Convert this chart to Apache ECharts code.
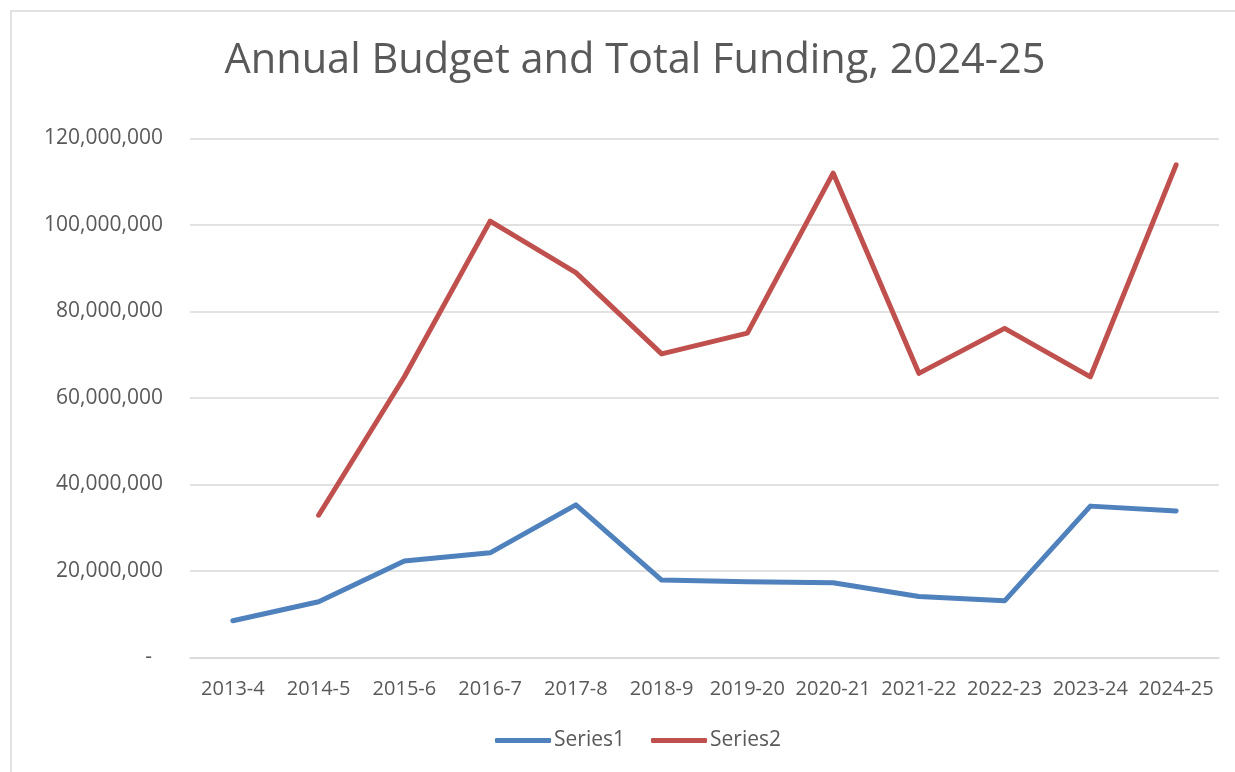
<!DOCTYPE html>
<html>
<head>
<meta charset="utf-8">
<script src="https://cdn.jsdelivr.net/npm/echarts@6/dist/echarts.min.js"></script>
<style>
html,body{margin:0;padding:0;background:#fff;}
#chart{width:1235px;height:772px;}
</style>
</head>
<body>
<div id="chart"></div>
<script>
const categories = ['2013-4','2014-5','2015-6','2016-7','2017-8','2018-9','2019-20','2020-21','2021-22','2022-23','2023-24','2024-25'];
const series1 = [8500000, 12900000, 22300000, 24200000, 35300000, 17900000, 17500000, 17300000, 14100000, 13100000, 35000000, 33900000];
const series2 = [null, 32900000, 64900000, 100900000, 89000000, 70200000, 75000000, 112000000, 65700000, 76100000, 64900000, 113900000];
const titleText = 'Annual Budget and Total Funding, 2024-25';

const FONT = '"Open Sans", sans-serif';
const chart = echarts.init(document.getElementById('chart'), null, {renderer: 'canvas'});
chart.setOption({
  backgroundColor: '#fff',
  animation: false,
  title: {
    text: titleText,
    left: 630, top: 35,
    textAlign: 'center',
    textStyle: {fontFamily: FONT, fontSize: 41.5, fontWeight: 'normal', color: '#595959'}
  },
  graphic: [{
    type: 'rect', shape: {x: 11, y: 11, width: 1240, height: 800},
    style: {fill: 'none', stroke: '#d9d9d9', lineWidth: 1.5}, silent: true
  }],
  grid: {left: 190, right: 16, top: 138.5, bottom: 114.5, containLabel: false},
  xAxis: {
    type: 'category', data: categories, boundaryGap: true,
    axisLine: {show: true, lineStyle: {color: '#d9d9d9', width: 1.5}},
    axisTick: {show: false},
    axisLabel: {fontFamily: FONT, fontSize: 20, color: '#595959', margin: 22, interval: 0}
  },
  yAxis: {
    type: 'value', min: 0, max: 120000000, interval: 20000000,
    axisLine: {show: false}, axisTick: {show: false},
    splitLine: {lineStyle: {color: '#d9d9d9', width: 1.5}},
    axisLabel: {
      fontFamily: FONT, fontSize: 21, color: '#595959', margin: 27,
      formatter: v => v === 0 ? '-  ' : v.toLocaleString('en-US')
    }
  },
  legend: {
    bottom: 16, left: 490, itemWidth: 56, itemHeight: 5, itemGap: 26,
    icon: 'roundRect',
    textStyle: {fontFamily: FONT, fontSize: 21, color: '#595959', padding: [0,0,0,-2]},
    data: ['Series1','Series2']
  },
  series: [
    {name: 'Series1', type: 'line', data: series1, showSymbol: false, symbol: 'none',
     lineStyle: {color: '#4F81BD', width: 5, cap: 'round', join: 'round'}, itemStyle: {color: '#4F81BD'}},
    {name: 'Series2', type: 'line', data: series2, showSymbol: false, symbol: 'none', connectNulls: false,
     lineStyle: {color: '#C0504D', width: 5, cap: 'round', join: 'round'}, itemStyle: {color: '#C0504D'}}
  ]
});
</script>
</body>
</html>
